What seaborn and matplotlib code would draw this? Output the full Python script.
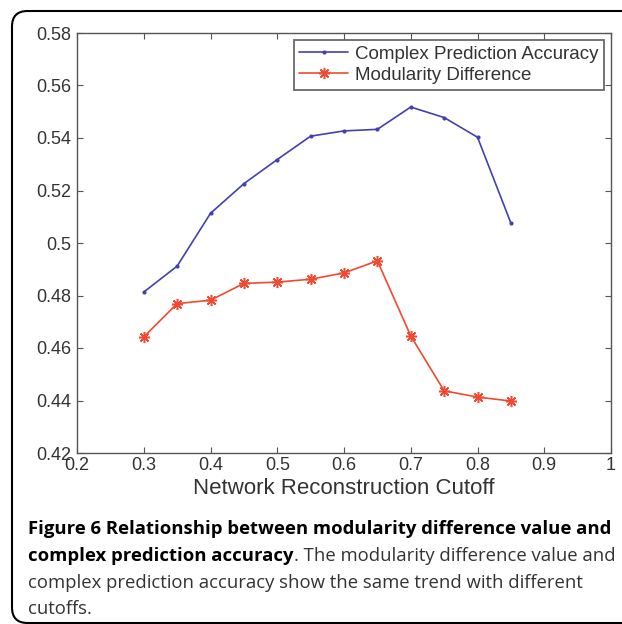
import matplotlib
matplotlib.use("Agg")
import matplotlib.pyplot as plt
import seaborn as sns
import pandas as pd
from matplotlib.patches import FancyBboxPatch
from matplotlib.ticker import FuncFormatter

cutoffs = [0.3, 0.35, 0.4, 0.45, 0.5, 0.55, 0.6, 0.65, 0.7, 0.75, 0.8, 0.85]
accuracy = [0.4813, 0.4912, 0.5113, 0.5226, 0.5318, 0.5407, 0.5427, 0.5433, 0.5518, 0.5478, 0.5403, 0.5076]
modularity = [0.4642, 0.4769, 0.4782, 0.4846, 0.4851, 0.4862, 0.4886, 0.4932, 0.4646, 0.4437, 0.4413, 0.4398]
series_names = ["Complex Prediction Accuracy", "Modularity Difference"]
xticks = [0.2, 0.3, 0.4, 0.5, 0.6, 0.7, 0.8, 0.9, 1.0]
yticks = [0.42, 0.44, 0.46, 0.48, 0.5, 0.52, 0.54, 0.56, 0.58]
xlabel = "Network Reconstruction Cutoff"
caption_bold1 = "Figure 6 Relationship between modularity difference value and"
caption_bold2 = "complex prediction accuracy"
caption_reg2 = ". The modularity difference value and"
caption_reg3 = "complex prediction accuracy show the same trend with different"
caption_reg4 = "cutoffs."

sns.set_style("white")
plt.rcParams["font.family"] = ["Liberation Sans", "DejaVu Sans"]

W, H = 622, 624
fig = plt.figure(figsize=(W / 100, H / 100), dpi=100)
ax = fig.add_axes([77 / W, 1 - 453 / H, (611 - 77) / W, (453 - 33) / H])

df = pd.DataFrame({"cutoff": cutoffs, "value": accuracy})
df2 = pd.DataFrame({"cutoff": cutoffs, "value": modularity})
blue = "#4141b2"
red = "#f04a30"
sns.lineplot(data=df, x="cutoff", y="value", ax=ax, color=blue, lw=1.2,
             marker="o", markersize=3, markeredgewidth=0, label=series_names[0])
sns.lineplot(data=df2, x="cutoff", y="value", ax=ax, color=red, lw=1.2,
             marker=(8, 2, 0), markersize=8, markeredgewidth=1.1,
             markeredgecolor=red, label=series_names[1])

ax.set_xlim(0.2, 1.0)
ax.set_ylim(0.42, 0.58)
ax.set_xticks(xticks)
ax.set_yticks(yticks)
fmt = FuncFormatter(lambda v, p: ("%g" % round(v, 3)))
ax.xaxis.set_major_formatter(fmt)
ax.yaxis.set_major_formatter(fmt)
ax.tick_params(direction="in", length=4, width=0.8, colors="#555555",
               labelcolor="#333333", labelsize=13, top=True, right=True,
               bottom=True, left=True, pad=4)
ax.tick_params(axis="x", pad=3)
for s in ax.spines.values():
    s.set_color("#555555")
    s.set_linewidth(1.0)
ax.set_xlabel(xlabel, fontsize=16, color="#333333", labelpad=3)
ax.set_ylabel("")

leg = ax.legend(loc="upper right", fontsize=13.5, frameon=True, fancybox=False,
                edgecolor="#444444", borderpad=0.3, handlelength=2.6,
                handletextpad=0.37, labelspacing=0.22, borderaxespad=0.37)
leg.get_frame().set_linewidth(1.3)
for t in leg.get_texts():
    t.set_color("#333333")

# rounded panel border
border = FancyBboxPatch((12 / W, 1 - 623 / H), (700 - 12) / W, (623 - 11) / H,
                        boxstyle="round,pad=0,rounding_size=0.025",
                        transform=fig.transFigure, fill=False,
                        edgecolor="black", lw=1.5, clip_on=False)
fig.patches.append(border)

cap_font = ["Open Sans", "DejaVu Sans"]
cs = 13.3
x0 = 28 / W
fig.text(x0, 1 - 534 / H, caption_bold1, fontsize=cs, fontweight="bold",
         family=cap_font, va="baseline", color="black")
tb = fig.text(x0, 1 - 561 / H, caption_bold2, fontsize=cs, fontweight="bold",
              family=cap_font, va="baseline", color="black")
fig.canvas.draw()
bb = tb.get_window_extent(renderer=fig.canvas.get_renderer())
fig.text(bb.x1 / W, 1 - 561 / H, caption_reg2, fontsize=cs,
         family=cap_font, va="baseline", color="#333333")
fig.text(x0, 1 - 588 / H, caption_reg3, fontsize=cs, family=cap_font,
         va="baseline", color="#333333")
fig.text(x0, 1 - 614 / H, caption_reg4, fontsize=cs, family=cap_font,
         va="baseline", color="#333333")

fig.savefig("out.png", dpi=100)
